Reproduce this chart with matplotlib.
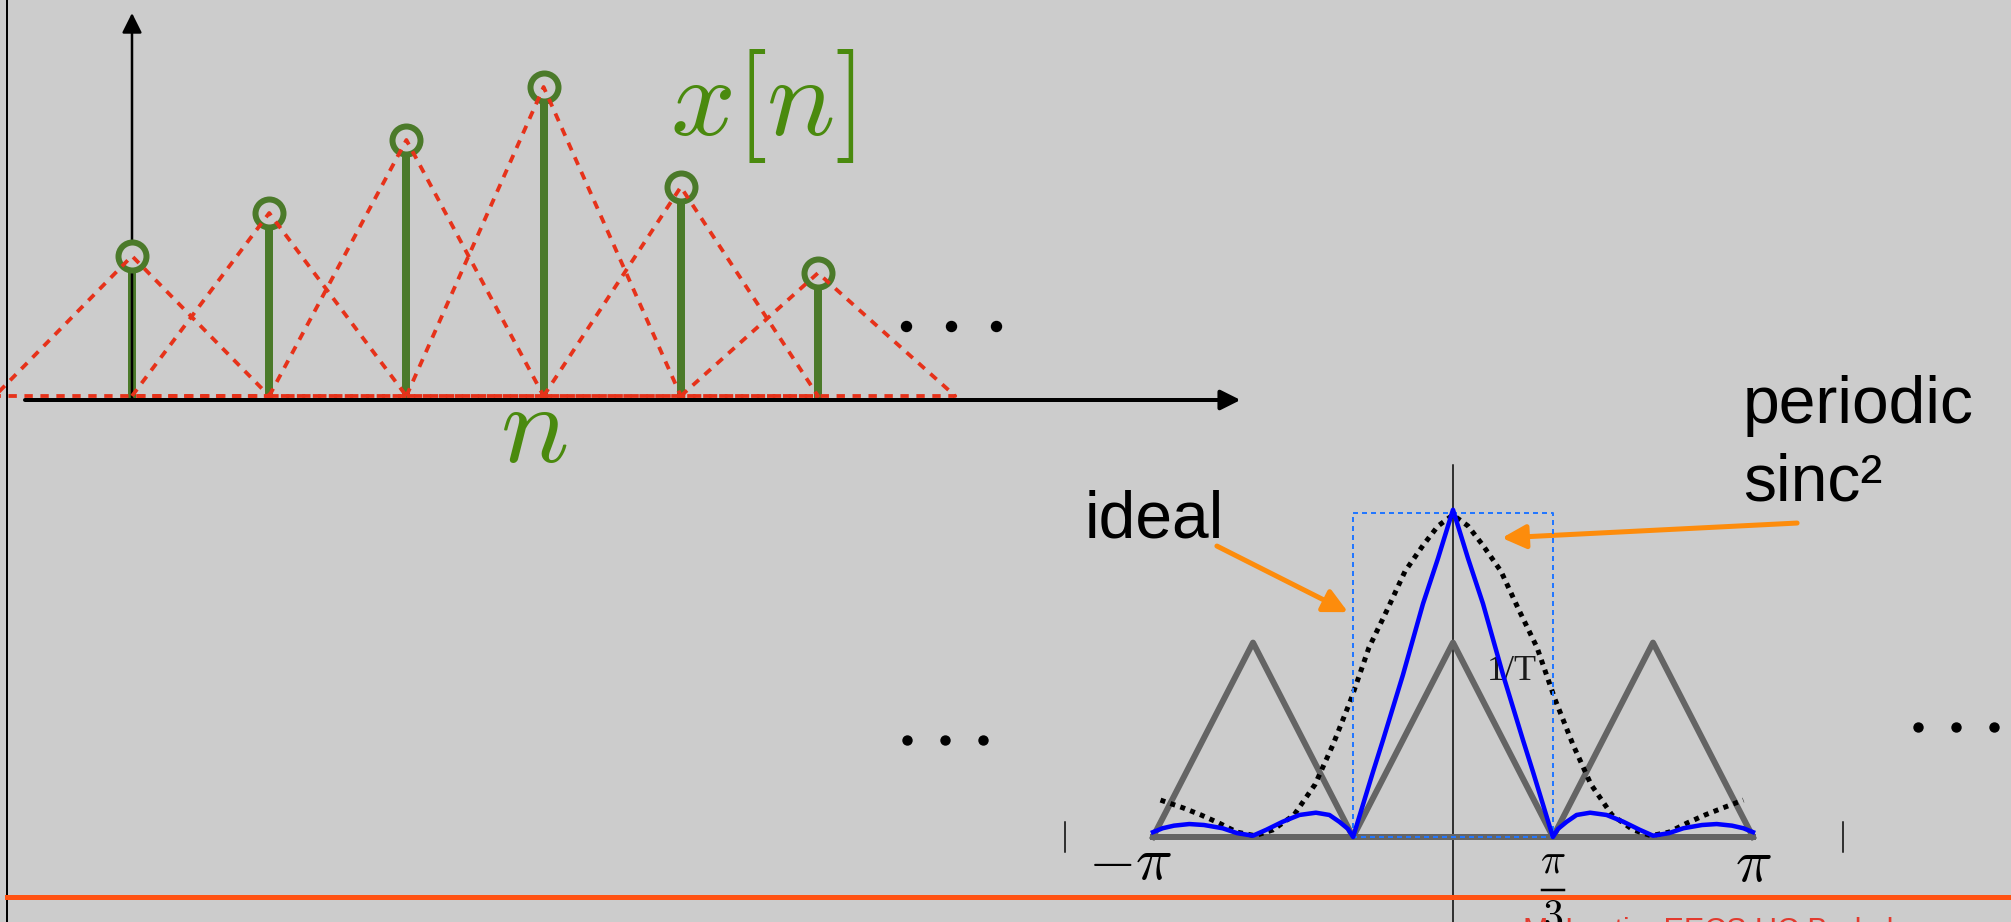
"""Linear interpolation of x[n] as a sum of triangles, and its periodic sinc^2 spectrum."""

import matplotlib.pyplot as plt
from matplotlib.lines import Line2D

plt.rcParams["font.family"] = ["Liberation Sans", "DejaVu Sans"]
plt.rcParams["mathtext.fontset"] = "cm"

# samples x[n]
sample_n = [0, 1, 2, 3, 4, 5]
sample_x = [1.44, 1.87, 2.60, 3.13, 2.13, 1.27]
top_ellipsis_n = [5.64, 5.97, 6.30]

# spectrum: frequency in units of pi, level relative to 1/T
replica_centers = [-2 / 3, 0.0, 2 / 3]
replica_half_width = 1 / 3
replica_peak = 0.60
ideal_cutoff = 1 / 3
ideal_level = 1.0

interp_w = [-1.00, -0.968, -0.93, -0.879, -0.83, -0.768, -0.72, -0.667,
            -0.623, -0.568, -0.512, -0.457, -0.412, -0.379, -0.35, -0.333,
            -0.30, -0.267, -0.233, -0.167, -0.10, -0.05, 0.0,
            0.05, 0.10, 0.167, 0.233, 0.267, 0.30, 0.333,
            0.35, 0.379, 0.412, 0.457, 0.512, 0.568, 0.623, 0.667,
            0.72, 0.768, 0.83, 0.879, 0.93, 0.968, 1.00]
interp_mag = [0.015, 0.027, 0.035, 0.040, 0.037, 0.027, 0.012, 0.004,
              0.022, 0.047, 0.068, 0.075, 0.068, 0.047, 0.025, 0.0,
              0.10, 0.20, 0.30, 0.50, 0.72, 0.86, 1.01,
              0.86, 0.72, 0.50, 0.30, 0.20, 0.10, 0.0,
              0.025, 0.047, 0.068, 0.075, 0.068, 0.047, 0.022, 0.004,
              0.012, 0.027, 0.037, 0.040, 0.035, 0.027, 0.015]

sinc2_w = [-0.975, -0.90, -0.84, -0.78, -0.72, -0.66, -0.60, -0.53, -0.46,
           -0.40, -0.34, -0.28, -0.22, -0.16, -0.10, -0.05, 0.0,
           0.05, 0.10, 0.16, 0.22, 0.28, 0.34, 0.40, 0.46,
           0.53, 0.60, 0.66, 0.72, 0.78, 0.84, 0.90, 0.968]
sinc2_mag = [0.114, 0.090, 0.068, 0.043, 0.015, 0.004, 0.022, 0.068, 0.162,
             0.285, 0.425, 0.585, 0.70, 0.82, 0.90, 0.96, 0.994,
             0.96, 0.90, 0.82, 0.70, 0.585, 0.425, 0.285, 0.162,
             0.068, 0.022, 0.004, 0.015, 0.043, 0.068, 0.090, 0.114]

freq_ticks = [-1.293, 1.30]
left_ellipsis_w = [-1.82, -1.693, -1.567]
right_ellipsis_w = [1.55, 1.677, 1.803]

# page geometry (pixels at 100 dpi)
FIG_W, FIG_H = 2011, 922
PX = 0.72  # points per pixel
BG = "#cccccc"
STEM_GREEN = "#4b7a2a"
LABEL_GREEN = "#4a8a0e"
RED = "#e6321a"
GRAY = "#646464"
BLUE = "#0000ff"
BOX_BLUE = "#2277ff"
ORANGE = "#fd8c0c"


def overlay_axes(fig, origin, unit):
    """Full-page axes whose data origin sits at `origin` pixels (from top-left)."""
    ox, oy = origin
    sx, sy = unit
    ax = fig.add_axes([0, 0, 1, 1])
    ax.set_xlim(-ox / sx, (FIG_W - ox) / sx)
    ax.set_ylim((oy - FIG_H) / sy, oy / sy)
    ax.set_axis_off()
    return ax


def axis_arrow(ax, start, end, lw, scale):
    ax.annotate("", xy=end, xytext=start,
                arrowprops=dict(arrowstyle="-|>", color="black", lw=lw,
                                mutation_scale=scale, shrinkA=0, shrinkB=0))


fig = plt.figure(figsize=(FIG_W / 100, FIG_H / 100), dpi=100, facecolor=BG)

# ---- top: samples and their triangle kernels ----
ax_top = overlay_axes(fig, (132, 400), (137.2, 100))

axis_arrow(ax_top, (-0.78, 0), (8.08, 0), 4 * PX, 30)
axis_arrow(ax_top, (0, 0), (0, 3.87), 2.5 * PX, 30)

for n, v in zip(sample_n, sample_x):
    ax_top.plot([n, n], [0, v], color=STEM_GREEN, lw=8 * PX,
                solid_capstyle="butt", zorder=2)
ax_top.plot(sample_n, sample_x, "o", ms=28 * PX, mfc=BG, mec=STEM_GREEN,
            mew=6 * PX, zorder=3)

lift = 0.04
for n, v in zip(sample_n, sample_x):
    ax_top.plot([n - 1, n, n + 1, n - 1], [lift, v, lift, lift], color=RED,
                lw=3.8 * PX, ls=(0, (2.2, 2.0)), zorder=4)

ax_top.plot(top_ellipsis_n, [0.74] * 3, "o", ms=10 * PX, color="black")
ax_top.text(3.92, 2.65, r"$x[n]$", fontsize=82, color=LABEL_GREEN,
            ha="left", va="baseline")
ax_top.text(2.93, -0.62, r"$n$", fontsize=82, color=LABEL_GREEN,
            ha="center", va="baseline")

# ---- bottom: spectrum ----
ax_bot = overlay_axes(fig, (1453, 837), (300, 324))

axis_arrow(ax_bot, (-1.543, 0), (1.87, 0), 2 * PX, 26)
ax_bot.plot([0, 0], [-0.3, 1.148], color="black", lw=1.5 * PX, zorder=1)
for t in freq_ticks:
    ax_bot.plot([t, t], [-0.045, 0.045], color="black", lw=1.5 * PX)

tri_w, tri_y = [], []
for c in replica_centers:
    tri_w += [c - replica_half_width, c, c + replica_half_width]
    tri_y += [0, replica_peak, 0]
ax_bot.plot(tri_w, tri_y, color=GRAY, lw=6 * PX, zorder=2)
ax_bot.plot([tri_w[0], tri_w[-1]], [0, 0], color=GRAY, lw=6 * PX, zorder=2)

ax_bot.plot(sinc2_w, sinc2_mag, color="black", lw=5 * PX,
            ls=(0, (1.0, 1.1)), zorder=3)
ax_bot.plot([-ideal_cutoff, -ideal_cutoff, ideal_cutoff, ideal_cutoff, -ideal_cutoff],
            [0, ideal_level, ideal_level, 0, 0], color=BOX_BLUE, lw=2 * PX,
            ls=(0, (2.5, 2)), zorder=3.5)
ax_bot.plot(interp_w, interp_mag, color=BLUE, lw=4.5 * PX, zorder=4,
            solid_joinstyle="round")

ax_bot.plot(left_ellipsis_w, [0.30] * 3, "o", ms=9 * PX, color="black")
ax_bot.plot(right_ellipsis_w, [0.34] * 3, "o", ms=9 * PX, color="black")

ax_bot.text(0.112, 0.485, "1/T", fontsize=26, family="Liberation Serif",
            color="#1a1a1a", ha="left", va="baseline")
ax_bot.text(-1.077, -0.133, r"$-\pi$", fontsize=44, ha="center", va="baseline")
ax_bot.text(1.0, -0.139, r"$\pi$", fontsize=44, ha="center", va="baseline")

# pi/3 label: numerator, fraction bar, denominator
ax_bot.text(ideal_cutoff, -0.111, r"$\pi$", fontsize=30, ha="center", va="baseline")
ax_bot.plot([ideal_cutoff - 0.037, ideal_cutoff + 0.037], [-0.164, -0.164],
            color="black", lw=2.5 * PX)
ax_bot.text(ideal_cutoff, -0.284, r"$3$", fontsize=30, ha="center", va="baseline")

ax_bot.text(-1.227, 0.923, "ideal", fontsize=47.5, ha="left", va="baseline")
ax_bot.text(0.967, 1.278, "periodic", fontsize=47.5, ha="left", va="baseline")
ax_bot.text(0.967, 1.040, "sinc\u00b2", fontsize=47.5, ha="left", va="baseline")

orange_arrow = dict(arrowstyle="-|>", color=ORANGE, lw=5 * PX,
                    mutation_scale=36, shrinkA=0, shrinkB=0)
ax_bot.annotate("", xy=(-0.35, 0.694), xytext=(-0.787, 0.898),
                arrowprops=orange_arrow)
ax_bot.annotate("", xy=(0.163, 0.923), xytext=(1.147, 0.969),
                arrowprops=orange_arrow)

# ---- page furniture ----
fig.add_artist(Line2D([7 / FIG_W] * 2, [0, 1], transform=fig.transFigure,
                      color="black", lw=2 * PX))
fig.add_artist(Line2D([7 / FIG_W, 1], [1 - 897 / FIG_H] * 2,
                      transform=fig.transFigure, color="#ff5212", lw=5 * PX))
fig.text(1523 / FIG_W, 1 - 940 / FIG_H, "M. Lustig, EECS UC Berkeley",
         fontsize=22, color="#e23a2e", ha="left", va="baseline")

fig.savefig("out.png", dpi=100, facecolor=BG)
